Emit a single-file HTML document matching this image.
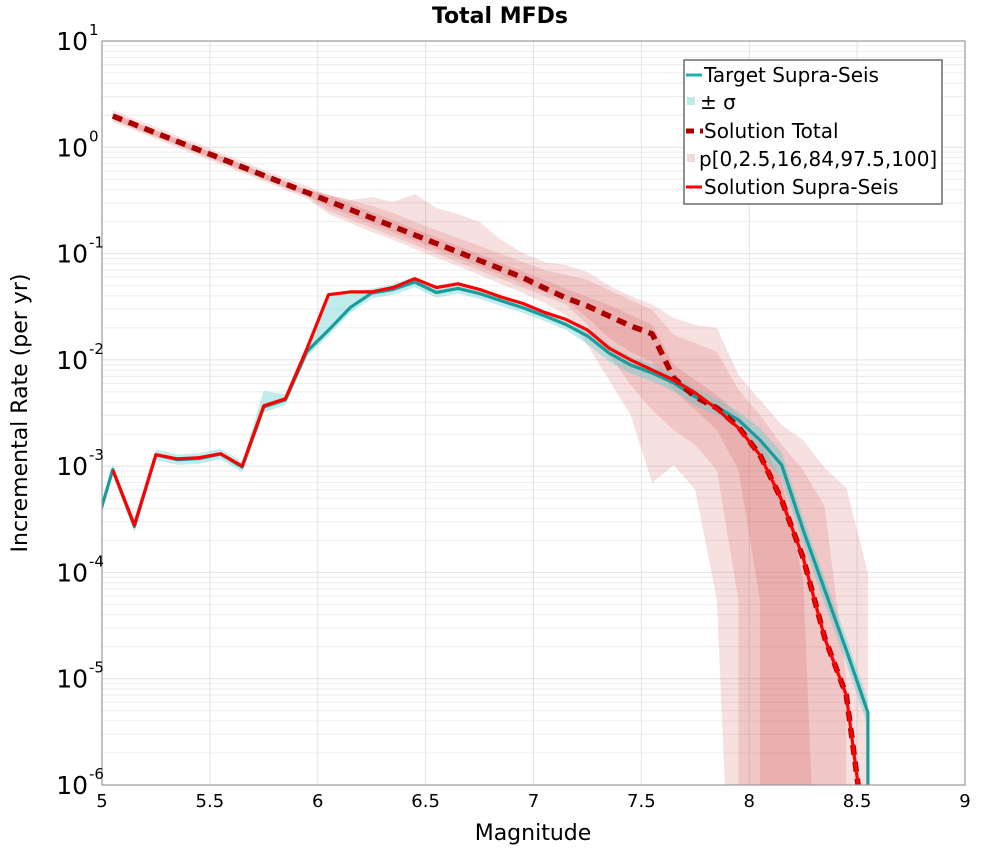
<!DOCTYPE html>
<html><head><meta charset="utf-8"><style>
html,body{margin:0;padding:0;background:#fff;overflow:hidden;width:1000px;height:850px;}
svg{display:block;}
</style></head><body>
<svg id="chart" width="1000" height="850" xmlns="http://www.w3.org/2000/svg" font-family="'DejaVu Sans','Liberation Sans',sans-serif">
<defs><clipPath id="plotclip"><rect x="102" y="41" width="863" height="744"/></clipPath></defs>
<text x="500" y="23" text-anchor="middle" font-size="22" font-weight="bold">Total MFDs</text>
<g id="grid"></g>
<g id="bands" clip-path="url(#plotclip)"></g>
<g id="lines" clip-path="url(#plotclip)"></g>
<rect x="102" y="41" width="863" height="744" fill="none" stroke="#999" stroke-width="1.2"/>
<g id="ticks"></g>
<text x="533" y="840" text-anchor="middle" font-size="22">Magnitude</text>
<text transform="translate(27,413) rotate(-90)" text-anchor="middle" font-size="22">Incremental Rate (per yr)</text>
<g>
<rect x="684" y="60" width="258" height="144" fill="#fff" stroke="#555" stroke-width="1.3"/>
<line x1="686" y1="75" x2="702" y2="75" stroke="#20b2aa" stroke-width="3"/>
<text x="704" y="82" font-size="20">Target Supra-Seis</text>
<rect x="687" y="97" width="8" height="8" fill="#bfe9e9"/>
<text x="700" y="109" font-size="20">± σ</text>
<line x1="686" y1="131" x2="703" y2="131" stroke="#aa0000" stroke-width="5" stroke-dasharray="8,6"/>
<text x="704" y="138" font-size="20">Solution Total</text>
<rect x="687" y="154" width="8" height="8" fill="#f2dada"/>
<text x="699" y="166" font-size="20">p[0,2.5,16,84,97.5,100]</text>
<line x1="686" y1="187" x2="702" y2="187" stroke="#ff0000" stroke-width="3"/>
<text x="704" y="194" font-size="20">Solution Supra-Seis</text>
</g>
</svg>
<script>
const mags = [4.95,5.05,5.15,5.25,5.35,5.45,5.55,5.65,5.75,5.85,5.95,6.05,6.15,6.25,6.35,6.45,6.55,6.65,6.75,6.85,6.95,7.05,7.15,7.25,7.35,7.45,7.55,7.65,7.75,7.85,7.95,8.05,8.15,8.25,8.35,8.45,8.55];
const targetRate = [1.9e-4,9.3e-4,2.7e-4,1.28e-3,1.15e-3,1.18e-3,1.3e-3,9.8e-4,3.6e-3,4.2e-3,0.012,0.019,0.031,0.0425,0.046,0.054,0.043,0.047,0.042,0.036,0.031,0.026,0.0215,0.0168,0.0116,0.00895,0.00753,0.00607,0.00448,0.00361,0.00272,0.00176,0.00103,2.5e-4,6.8e-5,1.86e-5,4.8e-6];
const sigmaUpFactor = [1.1,1.12,1.12,1.12,1.12,1.12,1.12,1.12,1.42,1.12,1.12,2.1,1.42,1.1,1.12,1.12,1.12,1.12,1.12,1.12,1.12,1.12,1.12,1.2,1.2,1.2,1.2,1.2,1.2,1.2,1.2,1.3,1.3,1.3,1.3,1.3,1.3];
const sigmaDownFactor = [1.1,1.12,1.12,1.12,1.12,1.12,1.12,1.12,1.12,1.12,1.12,1.12,1.12,1.12,1.12,1.12,1.12,1.12,1.12,1.12,1.12,1.12,1.12,1.2,1.2,1.2,1.2,1.2,1.2,1.2,1.2,1.35,1.35,1.35,1.35,1.35,1.35];
const supraRate = [null,9.2e-4,2.8e-4,1.28e-3,1.17e-3,1.2e-3,1.31e-3,1.0e-3,3.7e-3,4.3e-3,0.0128,0.041,0.0436,0.0436,0.048,0.058,0.048,0.052,0.046,0.039,0.034,0.028,0.024,0.0191,0.0129,0.00998,0.00804,0.00647,0.00489,0.00345,0.00229,0.00127,4.8e-4,1.37e-4,2.4e-5,7.0e-6,2.0e-7];
const totalLog10 = [null,0.294,0.214,0.134,0.054,-0.026,-0.105,-0.185,-0.265,-0.345,-0.425,-0.505,-0.585,-0.665,-0.745,-0.825,-0.905,-0.985,-1.065,-1.145,-1.225,-1.324,-1.418,-1.493,-1.587,-1.681,-1.756,-2.170,-2.349,-2.453,-2.632,-2.895,-3.318,-3.864,-4.617,-5.153,-6.705];
const p100Log10 = [null,0.351,0.266,0.191,0.106,0.031,-0.054,-0.129,-0.214,-0.289,-0.364,-0.45,-0.496,-0.468,-0.515,-0.439,-0.571,-0.628,-0.703,-0.872,-0.995,-1.079,-1.107,-1.173,-1.30,-1.40,-1.48,-1.606,-1.672,-1.700,-2.142,-2.377,-2.613,-2.754,-3.017,-3.205,-4.005];
const p0Log10 = [null,0.238,0.158,0.078,-0.002,-0.082,-0.161,-0.241,-0.321,-0.401,-0.481,-0.628,-0.712,-0.797,-0.872,-0.957,-1.041,-1.117,-1.202,-1.286,-1.371,-1.465,-1.578,-1.860,-2.189,-2.519,-3.158,-2.989,-3.224,-4.26,-9,null,null,null,null,null,null];
const p975Log10 = [null,0.322,0.242,0.162,0.082,0.002,-0.077,-0.157,-0.237,-0.317,-0.397,-0.449,-0.496,-0.552,-0.618,-0.703,-0.778,-0.853,-0.928,-1.004,-1.079,-1.154,-1.201,-1.248,-1.342,-1.437,-1.531,-1.766,-1.841,-1.926,-2.283,-2.519,-2.80,-3.036,-3.384,-5.01,null];
const p25Log10 = [null,0.256,0.176,0.096,0.016,-0.064,-0.143,-0.223,-0.303,-0.383,-0.463,-0.599,-0.679,-0.759,-0.839,-0.919,-0.999,-1.079,-1.159,-1.239,-1.319,-1.399,-1.479,-1.672,-1.954,-2.236,-2.472,-2.660,-2.801,-3.036,-4.26,null,null,null,null,null,null];
const p84Log10 = [null,0.313,0.233,0.153,0.073,-0.007,-0.086,-0.166,-0.246,-0.326,-0.406,-0.449,-0.529,-0.609,-0.689,-0.769,-0.849,-0.929,-1.009,-1.089,-1.169,-1.249,-1.329,-1.409,-1.484,-1.578,-1.672,-2.048,-2.189,-2.330,-2.519,-2.754,-3.13,-4.07,-9,null,null];
const p16Log10 = [null,0.266,0.186,0.106,0.026,-0.054,-0.133,-0.213,-0.293,-0.373,-0.453,-0.561,-0.641,-0.721,-0.801,-0.881,-0.961,-1.041,-1.121,-1.201,-1.281,-1.361,-1.441,-1.606,-1.794,-1.926,-2.020,-2.283,-2.472,-2.660,-3.036,-4.26,null,null,null,null,null];
const xTicks = [5,5.5,6,6.5,7,7.5,8,8.5,9];
const xTickLabels = ["5","5.5","6","6.5","7","7.5","8","8.5","9"];
const yDecades = [1,0,-1,-2,-3,-4,-5,-6];

const X0=102,X1=965,Y0=41,Y1=785;
const xS=m=>X0+(m-5)/4*(X1-X0);
const yL=l=>Y0+(1-l)/7*(Y1-Y0);
const yR=v=>yL(Math.log10(v));
const NS="http://www.w3.org/2000/svg";
function mk(tag,attrs,parent){const e=document.createElementNS(NS,tag);for(const k in attrs)e.setAttribute(k,attrs[k]);parent.appendChild(e);return e;}
const grid=document.getElementById('grid'),bands=document.getElementById('bands'),lines=document.getElementById('lines'),ticks=document.getElementById('ticks');

yDecades.forEach(d=>{
  if(d<1){for(let k=2;k<=9;k++){const l=mk('line',{x1:X0,x2:X1,y1:yL(d+Math.log10(k)),y2:yL(d+Math.log10(k)),stroke:'#ececec','stroke-width':1},grid);
    
    }}
  const g=mk('line',{x1:X0,x2:X1,y1:yL(d),y2:yL(d),stroke:'#e2e2e2','stroke-width':1},grid);
  
  
  const t=mk('text',{x:88,y:yL(d)+9,'text-anchor':'end','font-size':25},ticks);
  
  
  t.textContent='10';
  const s=mk('text',{x:89,y:yL(d)-6,'font-size':15},ticks);
  
  
  s.textContent=String(d);
});
xTicks.forEach((m,i)=>{
  const g=mk('line',{x1:xS(m),x2:xS(m),y1:Y0,y2:Y1,stroke:'#e2e2e2','stroke-width':1},grid);
  
  
  const t=mk('text',{x:xS(m),y:807,'text-anchor':'middle','font-size':18},ticks);
  
  
  t.textContent=xTickLabels[i];
});

const BIG=Y1+400;
function band(upper,lower,fill,name){
  const up=[],lo=[];
  for(let i=0;i<mags.length;i++){if(upper[i]!=null)up.push([xS(mags[i]),upper[i]]);if(lower[i]!=null)lo.push([xS(mags[i]),lower[i]]);}
  const pts=up.map(p=>p[0]+','+p[1]);
  pts.push(up[up.length-1][0]+','+BIG);
  pts.push(lo[lo.length-1][0]+','+BIG);
  for(let i=lo.length-1;i>=0;i--)pts.push(lo[i][0]+','+lo[i][1]);
  const p=mk('polygon',{points:pts.join(' '),fill:fill},bands);
  
  
}
const lg=a=>a.map(v=>v==null?null:Math.min(Math.max(yL(v),-500),BIG+2000));
band(lg(p100Log10),lg(p0Log10),'rgba(205,70,70,0.17)','band-p0-p100');
band(lg(p975Log10),lg(p25Log10),'rgba(205,70,70,0.17)','band-p2.5-p97.5');
band(lg(p84Log10),lg(p16Log10),'rgba(205,70,70,0.17)','band-p16-p84');
band(targetRate.map((v,i)=>yR(v*sigmaUpFactor[i])),targetRate.map((v,i)=>yR(v/sigmaDownFactor[i])),'rgba(90,205,205,0.38)','sigma-band');

function path(ys,color,w,dash,name,drop){
  let d='';let last=null;
  for(let i=0;i<mags.length;i++){if(ys[i]==null)continue;d+=(d?'L':'M')+xS(mags[i]).toFixed(1)+','+ys[i].toFixed(1);last=i;}
  if(drop)d+='L'+xS(mags[last]).toFixed(1)+','+(Y1+20);
  const p=mk('path',{d:d,fill:'none',stroke:color,'stroke-width':w,'stroke-linejoin':'round'},lines);
  if(dash)p.setAttribute('stroke-dasharray',dash);
  
  
}
path(targetRate.map(v=>yR(v)),'#1a9c9c',3.2,null,'target-supra-seis-line',true);
path(totalLog10.map(v=>v==null?null:yL(v)),'#aa0000',5.5,'10,7','solution-total-line',false);
path(supraRate.map(v=>v==null?null:yR(v)),'#ff0000',3.2,null,'solution-supra-seis-line',false);
</script>
</body></html>
